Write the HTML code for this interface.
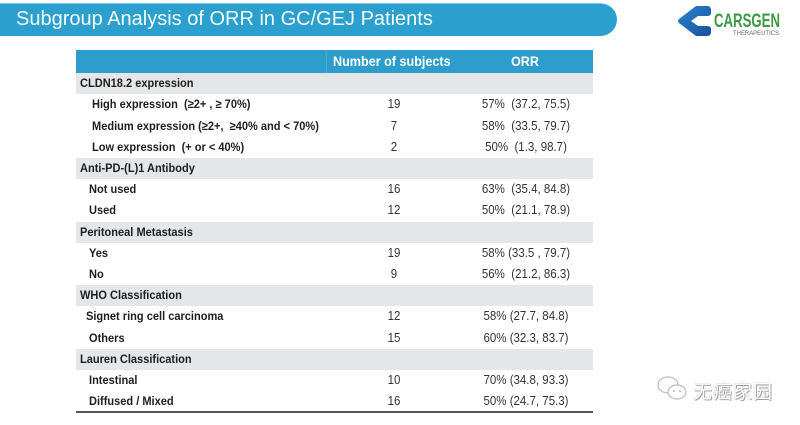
<!DOCTYPE html>
<html><head><meta charset="utf-8">
<style>
html,body{margin:0;padding:0;background:#fff;}
body{width:800px;height:425px;position:relative;overflow:hidden;font-family:"Liberation Sans",Arial,sans-serif;}
.banner{position:absolute;left:0;top:3px;width:617px;height:33px;background:#2ba0cf;border-radius:0 17px 17px 0;border-top:1px solid #7cc6e6;box-sizing:border-box;}
.title{position:absolute;left:16px;top:6px;font-size:20px;color:#f4fbff;white-space:nowrap;line-height:26px;}
.hdr{position:absolute;left:76px;top:49.5px;width:516.5px;height:23px;background:#2d9dcc;}
.hdr .div{position:absolute;left:250px;top:0;width:1px;height:23px;background:#4aaed8;}
.ht{position:absolute;top:49.5px;height:23px;line-height:23px;color:#fff;font-weight:bold;font-size:14px;white-space:nowrap;transform:scaleX(0.9);transform-origin:left center;}
.band{position:absolute;left:76px;width:516.5px;height:21.2px;background:#e5e6e7;}
.t{position:absolute;height:21.2px;line-height:21.2px;font-size:12px;white-space:pre;color:#1e1e1e;transform:scaleX(0.92);transform-origin:left center;}
.g{font-weight:bold;}
.s{font-weight:bold;}
.n{width:60px;left:364px;text-align:center;font-size:12.5px;color:#333;font-weight:normal;transform-origin:center center;}
.o{width:130px;left:461px;text-align:center;font-size:12.5px;color:#333;font-weight:normal;transform-origin:center center;}
.bline{position:absolute;left:76px;top:411px;width:516.5px;height:2px;background:#555;}
</style></head><body>
<div class="banner"></div>
<div class="title">Subgroup Analysis of ORR in GC/GEJ Patients</div>

<svg style="position:absolute;left:676px;top:4px" width="110" height="36" viewBox="0 0 110 36">
  <defs><linearGradient id="lg" x1="0" y1="0" x2="1" y2="1"><stop offset="0" stop-color="#2a86d0"/><stop offset="1" stop-color="#184f9a"/></linearGradient></defs>
  <path d="M20 2 H31 Q35 2 35 6 V9 Q35 12 31 12 H22 L15 17 L22 22 H31 Q35 22 35 25 V28 Q35 32 31 32 H20 L3 19 Q1 17 3 15 Z" fill="url(#lg)"/>
  <text x="38" y="23" font-family="Liberation Sans Narrow, Liberation Sans, sans-serif" font-weight="bold" font-size="19" fill="#3d9a45" textLength="66" lengthAdjust="spacingAndGlyphs">CARSGEN</text>
  <text x="57" y="31" font-family="Liberation Sans, sans-serif" font-size="6" fill="#666" textLength="46" lengthAdjust="spacingAndGlyphs">THERAPEUTICS</text>
</svg>

<div class="hdr"><div class="div"></div></div>
<div class="ht" style="left:333px;">Number of subjects</div>
<div class="ht" style="left:511px;">ORR</div>

<div class="band" style="top:73.2px"></div>
<div class="band" style="top:158px"></div>
<div class="band" style="top:221.6px"></div>
<div class="band" style="top:285.2px"></div>
<div class="band" style="top:348.8px"></div>

<div class="t g" style="left:80px;top:73.2px">CLDN18.2 expression</div>
<div class="t s" style="left:92px;top:94.4px">High expression  (≥2+ , ≥ 70%)</div>
<div class="t n" style="top:94.4px">19</div>
<div class="t o" style="top:94.4px">57%  (37.2, 75.5)</div>
<div class="t s" style="left:92px;top:115.6px">Medium expression (≥2+,  ≥40% and &lt; 70%)</div>
<div class="t n" style="top:115.6px">7</div>
<div class="t o" style="top:115.6px">58%  (33.5, 79.7)</div>
<div class="t s" style="left:92px;top:136.8px">Low expression  (+ or &lt; 40%)</div>
<div class="t n" style="top:136.8px">2</div>
<div class="t o" style="top:136.8px">50%  (1.3, 98.7)</div>

<div class="t g" style="left:80px;top:158px">Anti-PD-(L)1 Antibody</div>
<div class="t s" style="left:89px;top:179.2px">Not used</div>
<div class="t n" style="top:179.2px">16</div>
<div class="t o" style="top:179.2px">63%  (35.4, 84.8)</div>
<div class="t s" style="left:89px;top:200.4px">Used</div>
<div class="t n" style="top:200.4px">12</div>
<div class="t o" style="top:200.4px">50%  (21.1, 78.9)</div>

<div class="t g" style="left:80px;top:221.6px">Peritoneal Metastasis</div>
<div class="t s" style="left:89px;top:242.8px">Yes</div>
<div class="t n" style="top:242.8px">19</div>
<div class="t o" style="top:242.8px">58% (33.5 , 79.7)</div>
<div class="t s" style="left:89px;top:264px">No</div>
<div class="t n" style="top:264px">9</div>
<div class="t o" style="top:264px">56%  (21.2, 86.3)</div>

<div class="t g" style="left:80px;top:285.2px">WHO Classification</div>
<div class="t s" style="left:86px;top:306.4px">Signet ring cell carcinoma</div>
<div class="t n" style="top:306.4px">12</div>
<div class="t o" style="top:306.4px">58% (27.7, 84.8)</div>
<div class="t s" style="left:89px;top:327.6px">Others</div>
<div class="t n" style="top:327.6px">15</div>
<div class="t o" style="top:327.6px">60% (32.3, 83.7)</div>

<div class="t g" style="left:80px;top:348.8px">Lauren Classification</div>
<div class="t s" style="left:89px;top:370px">Intestinal</div>
<div class="t n" style="top:370px">10</div>
<div class="t o" style="top:370px">70% (34.8, 93.3)</div>
<div class="t s" style="left:89px;top:391.2px">Diffused / Mixed</div>
<div class="t n" style="top:391.2px">16</div>
<div class="t o" style="top:391.2px">50% (24.7, 75.3)</div>

<div class="bline"></div>

<svg style="position:absolute;left:656px;top:374px" width="34" height="30" viewBox="0 0 34 30">
  <ellipse cx="12" cy="11" rx="10" ry="8" fill="#fff" stroke="#bbb" stroke-width="1.2"/>
  <ellipse cx="21" cy="18" rx="9" ry="7" fill="#fff" stroke="#bbb" stroke-width="1.2"/>
  <circle cx="18" cy="17" r="1" fill="#bbb"/><circle cx="24" cy="17" r="1" fill="#bbb"/>
</svg>
<div style="position:absolute;left:693px;top:377px;font-family:'Liberation Sans','Noto Sans CJK SC',sans-serif;font-size:19px;color:#fff;text-shadow:0 0 1px #888,1px 1px 0 #aaa;letter-spacing:1px;white-space:nowrap;">无癌家园</div>
</body></html>
